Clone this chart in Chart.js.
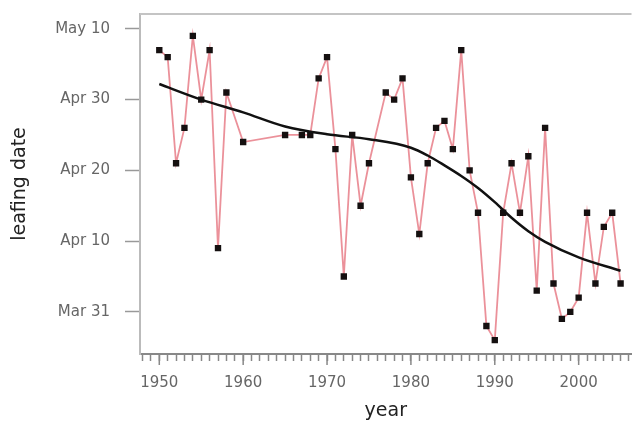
<!DOCTYPE html>
<html>
<head>
<meta charset="utf-8">
<script src="https://cdn.jsdelivr.net/npm/chart.js@4.4.1/dist/chart.umd.min.js"></script>
<style>
  html, body { margin: 0; padding: 0; background: #fff; }
  #wrap { width: 636px; height: 424px; }
</style>
</head>
<body>
<div id="wrap"><canvas id="chart" width="636" height="424"></canvas></div>
<script>
// observed leafing dates (day of year), some years missing
const years = [1950, 1951, 1952, 1953, 1954, 1955, 1956, 1957, 1958, 1960,
  1965, 1967, 1968, 1969, 1970, 1971, 1972, 1973, 1974, 1975,
  1977, 1978, 1979, 1980, 1981, 1982, 1983, 1984, 1985, 1986,
  1987, 1988, 1989, 1990, 1991, 1992, 1993, 1994, 1995, 1996,
  1997, 1998, 1999, 2000, 2001, 2002, 2003, 2004, 2005];
const leafDay = [127, 126, 111, 116, 129, 120, 127, 99, 121, 114,
  115, 115, 115, 123, 126, 113, 95, 115, 105, 111,
  121, 120, 123, 109, 101, 111, 116, 117, 113, 127,
  110, 104, 88, 86, 104, 111, 104, 112, 93, 116,
  94, 89, 90, 92, 104, 94, 102, 104, 94];

// smooth trend curve
const smoothYears = [1950, 1955, 1960, 1965, 1970, 1975, 1980, 1982, 1984, 1986, 1988, 1990, 1992, 1994, 1996, 2000, 2005];
const smoothDay = [122.2, 120.0, 118.2, 116.2, 115.1, 114.4, 113.2, 112.1, 110.7, 109.2, 107.5, 105.5, 103.3, 101.4, 99.9, 97.7, 95.8];

// axis ticks
const dayTicks = [90, 100, 110, 120, 130];
const dayLabels = ['Mar 31', 'Apr 10', 'Apr 20', 'Apr 30', 'May 10'];
const decadeTicks = [1950, 1960, 1970, 1980, 1990, 2000];
const yearTicks = Array.from({ length: 59 }, (_, i) => 1948 + i);

const FONT = '"DejaVu Sans", "Liberation Sans", sans-serif';

/* ── frame and long decade ticks ── */
const framePlugin = {
  id: 'frame',
  afterDraw(chart) {
    const { ctx, chartArea: { left, right, top, bottom } } = chart;
    const xs = chart.scales.x;
    ctx.save();
    ctx.strokeStyle = '#c4c4c4';
    ctx.lineWidth = 2;
    ctx.beginPath();
    ctx.moveTo(left, top);
    ctx.lineTo(right, top);
    ctx.stroke();
    ctx.strokeStyle = '#888';
    ctx.lineWidth = 1.5;
    decadeTicks.forEach(v => {
      const x = xs.getPixelForValue(v);
      ctx.beginPath();
      ctx.moveTo(x, bottom);
      ctx.lineTo(x, bottom + 11);
      ctx.stroke();
    });
    ctx.restore();
  }
};

new Chart(document.getElementById('chart'), {
  type: 'line',
  data: {
    datasets: [
      {
        label: 'trend',
        data: smoothYears.map((x, i) => ({ x, y: smoothDay[i] })),
        borderColor: '#111',
        borderWidth: 2.5,
        pointRadius: 0,
        cubicInterpolationMode: 'monotone',
        order: 0
      },
      {
        label: 'leafing date',
        data: years.map((x, i) => ({ x, y: leafDay[i] })),
        borderColor: 'rgba(228, 108, 120, 0.75)',
        borderWidth: 1.8,
        pointStyle: 'rect',
        pointRadius: 4.5,
        pointBackgroundColor: '#151010',
        pointBorderColor: '#151010',
        pointBorderWidth: 0,
        order: 1
      }
    ]
  },
  options: {
    responsive: false,
    animation: false,
    layout: { padding: { top: 14, right: 0, bottom: 0, left: 0 } },
    plugins: { legend: { display: false }, tooltip: { enabled: false } },
    scales: {
      x: {
        type: 'linear',
        min: 1947.7,
        max: 2006.3,
        afterBuildTicks: s => { s.ticks = yearTicks.map(v => ({ value: v })); },
        afterFit: s => { s.height = 70; s.paddingLeft = 0; s.paddingRight = 0; },
        grid: { drawOnChartArea: false, tickLength: 7, tickColor: '#888', tickWidth: 1.5 },
        border: { color: '#888', width: 2 },
        ticks: {
          autoSkip: false,
          maxRotation: 0,
          padding: 13,
          color: '#666',
          font: { family: FONT, size: 15 },
          callback: v => decadeTicks.includes(v) ? String(v) : ''
        },
        title: {
          display: true,
          text: 'year',
          color: '#222',
          font: { family: FONT, size: 19 },
          padding: { top: 0, bottom: 2 }
        }
      },
      y: {
        type: 'linear',
        min: 84.04,
        max: 132.1,
        afterBuildTicks: s => { s.ticks = dayTicks.map(v => ({ value: v })); },
        afterFit: s => { s.width = 140; s.paddingTop = 0; s.paddingBottom = 0; },
        grid: { drawOnChartArea: false, tickLength: 15, tickColor: '#999', tickWidth: 1.5 },
        border: { color: '#bbb', width: 2 },
        ticks: {
          padding: 15,
          color: '#666',
          font: { family: FONT, size: 15 },
          callback: v => dayLabels[dayTicks.indexOf(v)]
        },
        title: {
          display: true,
          text: 'leafing date',
          color: '#222',
          font: { family: FONT, size: 19 },
          padding: { top: 9, bottom: 0 }
        }
      }
    }
  },
  plugins: [framePlugin]
});
</script>
</body>
</html>
